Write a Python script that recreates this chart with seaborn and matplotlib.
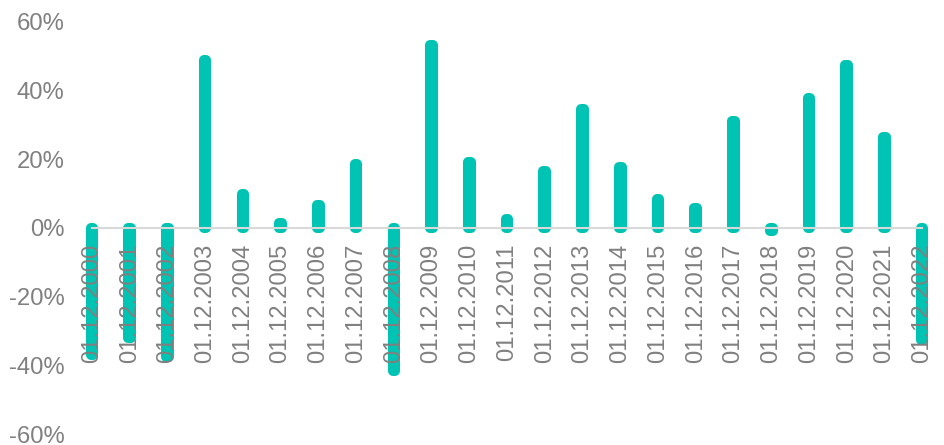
import matplotlib
matplotlib.use("Agg")
import matplotlib.pyplot as plt
import seaborn as sns
import pandas as pd

# Annual returns, in percent
dates = ["01.12.2000", "01.12.2001", "01.12.2002", "01.12.2003", "01.12.2004",
         "01.12.2005", "01.12.2006", "01.12.2007", "01.12.2008", "01.12.2009",
         "01.12.2010", "01.12.2011", "01.12.2012", "01.12.2013", "01.12.2014",
         "01.12.2015", "01.12.2016", "01.12.2017", "01.12.2018", "01.12.2019",
         "01.12.2020", "01.12.2021", "01.12.2022"]
returns = [-37.0, -32.0, -37.5, 49.0, 10.0,
           1.5, 6.7, 18.5, -41.7, 53.3,
           19.1, 2.6, 16.5, 34.8, 17.7,
           8.4, 5.8, 31.3, -1.0, 38.0,
           47.5, 26.4, -32.5]
y_ticks = [-60, -40, -20, 0, 20, 40, 60]
y_tick_labels = ["-60%", "-40%", "-20%", "0%", "20%", "40%", "60%"]

TEAL = "#00C4B3"
TEXT = "#808080"
AXIS = "#D9D9D9"

sns.set_style("white")
plt.rcParams["font.family"] = ["Liberation Sans", "DejaVu Sans"]

df = pd.DataFrame({"date": dates, "ret": returns})

fig = plt.figure(figsize=(9.45, 4.45), dpi=100)
ax = fig.add_axes([0.0773, 0.0247, 0.9185, 0.9259])

sns.barplot(data=df, x="date", y="ret", color=TEAL, saturation=1,
            width=0.07, linewidth=7.2, edgecolor=TEAL, errorbar=None, ax=ax)

# Pill-shaped bars: thick outline with rounded joins
for p in ax.patches:
    p.set_joinstyle("round")
    p.set_capstyle("round")
    p.set_zorder(1)

ax.set_xlim(-0.5, len(dates) - 0.5)
ax.set_ylim(-60, 60)
ax.set_xlabel("")
ax.set_ylabel("")

ax.set_yticks(y_ticks)
ax.set_yticklabels(y_tick_labels)

for side in ("top", "right", "left"):
    ax.spines[side].set_visible(False)
ax.spines["bottom"].set_position(("data", 0))
ax.spines["bottom"].set_color(AXIS)
ax.spines["bottom"].set_linewidth(1.5)
ax.spines["bottom"].set_bounds(0, len(dates) - 1)

ax.tick_params(axis="x", which="both", direction="out", length=5, width=1.2,
               color=AXIS, labelcolor=TEXT, labelsize=17.2, pad=6,
               labelrotation=90)
ax.tick_params(axis="y", length=0, labelcolor=TEXT, labelsize=17.2, pad=6)
for lbl in ax.get_xticklabels():
    lbl.set_verticalalignment("top")

ax.set_axisbelow(False)
ax.xaxis.set_zorder(3)

fig.savefig("out.png", dpi=100)
